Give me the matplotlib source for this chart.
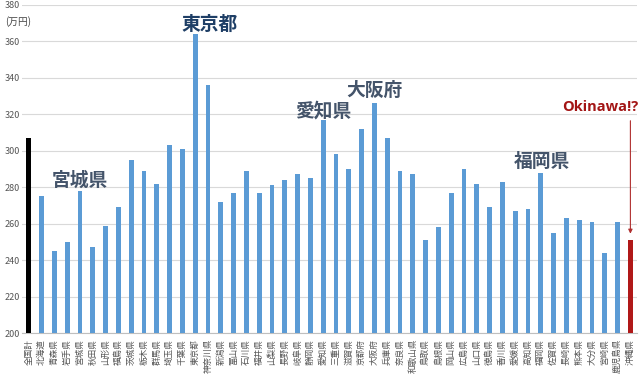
import matplotlib
matplotlib.use("Agg")
import matplotlib.pyplot as plt

plt.rcParams['font.family'] = ['Noto Sans CJK JP', 'DejaVu Sans']

# prefecture labels and values (万円)
labels = ["全国計", "北海道", "青森県", "岩手県", "宮城県", "秋田県", "山形県", "福島県",
          "茨城県", "栃木県", "群馬県", "埼玉県", "千葉県", "東京都", "神奈川県",
          "新潟県", "富山県", "石川県", "福井県", "山梨県", "長野県", "岐阜県", "静岡県",
          "愛知県", "三重県", "滋賀県", "京都府", "大阪府", "兵庫県", "奈良県", "和歌山県",
          "鳥取県", "島根県", "岡山県", "広島県", "山口県", "徳島県", "香川県", "愛媛県",
          "高知県", "福岡県", "佐賀県", "長崎県", "熊本県", "大分県", "宮崎県", "鹿児島県",
          "沖縄県"]
values = [307, 275, 245, 250, 278, 247, 259, 269,
          295, 289, 282, 303, 301, 364, 336,
          272, 277, 289, 277, 281, 284, 287, 285,
          317, 298, 290, 312, 326, 307, 289, 287,
          251, 258, 277, 290, 282, 269, 283, 267,
          268, 288, 255, 263, 262, 261, 244, 261,
          251]

# highlighted names
callout_names = ["宮城県", "東京都", "愛知県", "大阪府", "福岡県"]
callout_x = [4.0, 14.1, 23.0, 27.0, 40.1]
callout_y = [284, 369.5, 322, 333, 294]

colors = ["#5B9BD5"] * len(values)
colors[0] = "black"
colors[-1] = "#B01818"
widths = [0.36] * len(values)
widths[0] = 0.42
widths[-1] = 0.42

fig = plt.figure(figsize=(6.4, 3.76), dpi=100)
ax = fig.add_axes([0.034, 0.114, 0.962, 0.873])

x = range(len(values))
ax.bar(x, values, width=widths, color=colors, zorder=3)

ax.set_ylim(200, 380)
ax.set_yticks(range(200, 381, 20))
ax.set_xlim(-0.55, len(values) - 0.45)
ax.set_xticks(list(x))
ax.set_xticklabels(labels, rotation=90, fontsize=6.2, color="#555555")
ax.tick_params(axis="y", labelsize=6.5, colors="#555555", length=0, pad=12)
ax.tick_params(axis="x", length=0, pad=4)
for lab in ax.get_yticklabels():
    lab.set_horizontalalignment("left")
ax.grid(axis="y", color="#d9d9d9", linewidth=0.8, zorder=0)
for s in ["top", "right", "left"]:
    ax.spines[s].set_visible(False)
ax.spines["bottom"].set_color("#bfbfbf")

fig.text(5 / 640, 1 - 22 / 376, "(万円)", fontsize=7, color="#444444",
         ha="left", va="center")

for name, xp, yp in zip(callout_names, callout_x, callout_y):
    ax.text(xp, yp, name, fontsize=13.5, fontweight="bold",
            color="#1F3F66" if name == "東京都" else "#44546A",
            ha="center", va="center", zorder=5)

ax.text(47.6, 324, "Okinawa!?", fontsize=10.5, fontweight="bold",
        family="Open Sans", color="#A31515", ha="right", va="center", zorder=5)
ax.annotate("", xy=(47, 253), xytext=(47, 318),
            arrowprops=dict(arrowstyle="-|>", color="#B03030", lw=0.8,
                            mutation_scale=6), zorder=5)

fig.savefig("out.png", dpi=100)
